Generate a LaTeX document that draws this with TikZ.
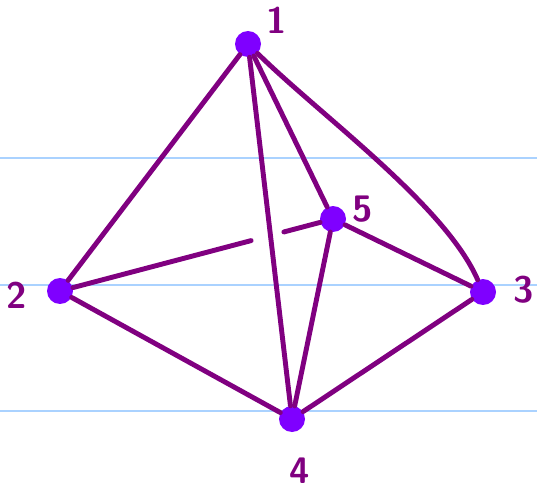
\documentclass[tikz,border=0pt]{standalone}
\usepackage{tikz}
\usetikzlibrary{calc}
\definecolor{edgepurple}{RGB}{128, 0, 128}
\definecolor{dotviolet}{RGB}{127, 0, 255}
\definecolor{ruleblue}{RGB}{170, 210, 255}

\begin{document}
\begin{tikzpicture}[x=0.02cm, y=-0.02cm,
  vert/.style={circle, fill=dotviolet, inner sep=0pt, minimum size=0.52cm},
  edge/.style={edgepurple, line width=2.8pt, line cap=round},
  lbl/.style={edgepurple, font=\sffamily\bfseries\fontsize{21}{25}\selectfont}]
\useasboundingbox (0,0) rectangle (537,493);
% ruled lines
\draw[ruleblue, line width=0.85pt] (0,158) -- (537,158);
\draw[ruleblue, line width=0.85pt] (0,285) -- (537,285);
\draw[ruleblue, line width=0.85pt] (0,411) -- (537,411);
% vertices
\node[vert] (v1) at (248,44) {};
\node[vert] (v2) at (60,291) {};
\node[vert] (v3) at (483,292) {};
\node[vert] (v4) at (292,419) {};
\node[vert] (v5) at (333,219) {};
\node[lbl] (l1) at (277,20) {1};
\node[lbl] (l2) at (17,295) {2};
\node[lbl] (l3) at (524,290) {3};
\node[lbl] (l4) at (300,471) {4};
\node[lbl] (l5) at (363,209) {5};
% edges
\draw[edge] (v1) -- (v2);
\draw[edge] (v1) -- (v4);
\draw[edge] (v1) -- (v5);
\draw[edge] (v1) .. controls (320,115) and (445,205) .. (v3);
\draw[edge] (v2) -- (v4);
\draw[edge] (v3) -- (v4);
\draw[edge] (v5) -- (v4);
\draw[edge] (v5) -- (v3);
\coordinate (g1) at ($(v2)!0.70!(v5)$);
\coordinate (g2) at ($(v2)!0.82!(v5)$);
\draw[edge] (v2) -- (g1);
\draw[edge] (g2) -- (v5);
\end{tikzpicture}
\end{document}
